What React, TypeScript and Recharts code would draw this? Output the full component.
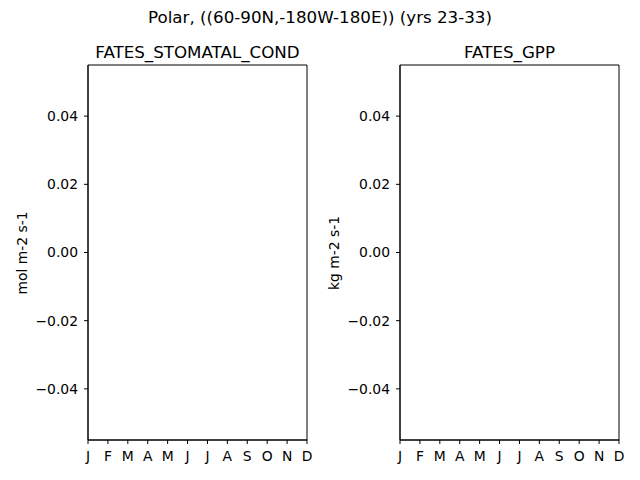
import React from "react";
import { Line, LineChart, ReferenceArea, XAxis, YAxis } from "recharts";

const months = ["J", "F", "M", "A", "M", "J", "J", "A", "S", "O", "N", "D"];
// no valid values in the polar region for these years
const stomatalCond: (number | null)[] = [null, null, null, null, null, null, null, null, null, null, null, null];
const gpp: (number | null)[] = [null, null, null, null, null, null, null, null, null, null, null, null];
const yTicks = [-0.04, -0.02, 0, 0.02, 0.04];
const yDomain: [number, number] = [-0.055, 0.055];

const FONT = "'DejaVu Sans', sans-serif";
const TICK = { fill: "#000", fontSize: 13.9, fontFamily: FONT };

const fmtY = (v: number) => (v < 0 ? "\u2212" : "") + Math.abs(v).toFixed(2);

function Panel({ left, title, unit, values }: { left: number; title: string; unit: string; values: (number | null)[] }) {
  const data = months.map((m, i) => ({ idx: i, month: m, value: values[i] }));
  return (
    <div style={{ position: "absolute", left, top: 0, width: 320, height: 480 }}>
      <div
        style={{
          position: "absolute",
          left: 88,
          width: 219,
          top: 44,
          textAlign: "center",
          fontSize: 16.7,
          lineHeight: 1,
          whiteSpace: "nowrap",
        }}
      >
        {title}
      </div>
      <div
        style={{
          position: "absolute",
          left: 23,
          top: 253,
          fontSize: 13.9,
          lineHeight: 1,
          whiteSpace: "nowrap",
          transform: "translate(-50%, -50%) rotate(-90deg)",
        }}
      >
        {unit}
      </div>
      <div style={{ position: "absolute", left: 0, top: 0 }}>
        <LineChart width={320} height={480} data={data} margin={{ top: 65, right: 13, bottom: 0, left: 0 }}>
          <XAxis
            dataKey="idx"
            type="number"
            domain={[0, 11]}
            allowDataOverflow
            ticks={months.map((_, i) => i)}
            tickFormatter={(i: number) => months[i]}
            interval={0}
            height={40}
            tickSize={4}
            tickMargin={7}
            stroke="#000"
            tick={TICK}
          />
          <YAxis
            type="number"
            domain={yDomain}
            allowDataOverflow
            ticks={yTicks}
            tickFormatter={fmtY}
            interval={0}
            width={88}
            tickSize={4}
            tickMargin={6}
            stroke="#000"
            tick={TICK}
          />
          <ReferenceArea
            x1={0}
            x2={11}
            y1={yDomain[0]}
            y2={yDomain[1]}
            fill="none"
            stroke="#000"
            strokeWidth={1}
            ifOverflow="visible"
          />
          <Line dataKey="value" stroke="#1f77b4" dot={false} isAnimationActive={false} />
        </LineChart>
      </div>
    </div>
  );
}

export default function App() {
  return (
    <div
      style={{
        position: "absolute",
        left: 0,
        top: 0,
        width: 640,
        height: 480,
        background: "#fff",
        fontFamily: FONT,
        color: "#000",
        overflow: "hidden",
      }}
    >
      <div style={{ position: "absolute", left: 0, width: 640, top: 9, textAlign: "center", fontSize: 16.7, lineHeight: 1 }}>
        Polar, ((60-90N,-180W-180E)) (yrs 23-33)
      </div>
      <Panel left={0} title="FATES_STOMATAL_COND" unit="mol m-2 s-1" values={stomatalCond} />
      <Panel left={312} title="FATES_GPP" unit="kg m-2 s-1" values={gpp} />
    </div>
  );
}
